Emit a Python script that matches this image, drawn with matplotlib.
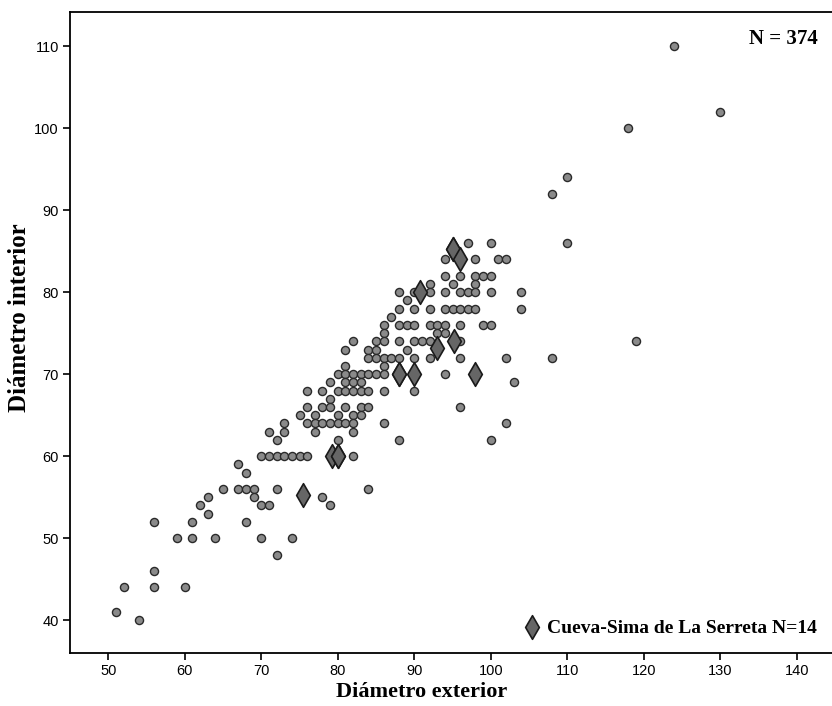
#!/usr/bin/env python3

import numpy as np
import matplotlib.pyplot as plt
from matplotlib.path import Path
from matplotlib.lines import Line2D

# diametro interior -> list of diametro exterior values on that row
rows = {
    110: [124],
    102: [130],
    100: [118],
    94: [110],
    92: [108],
    86: [97, 100, 110],
    84: [94, 98, 101, 102],
    82: [94, 96, 98, 99, 100],
    81: [92, 95, 98],
    80: [88, 90, 92, 94, 96, 97, 98, 100, 104],
    79: [89],
    78: [88, 90, 92, 94, 95, 96, 97, 98, 104],
    77: [87],
    76: [86, 88, 89, 90, 92, 93, 94, 96, 99, 100],
    75: [86, 93, 94],
    74: [82, 85, 86, 88, 90, 91, 92, 96, 119],
    73: [81, 84, 85, 89],
    72: [84, 85, 86, 87, 88, 90, 92, 96, 102, 108],
    71: [81, 86],
    70: [80, 81, 82, 83, 84, 85, 86, 94],
    69: [79, 81, 82, 83, 103],
    68: [76, 78, 80, 81, 82, 83, 84, 86, 90],
    67: [79],
    66: [76, 78, 79, 81, 83, 84, 96],
    65: [75, 77, 80, 82, 83],
    64: [73, 76, 77, 78, 79, 80, 81, 82, 86, 102],
    63: [71, 73, 77, 82],
    62: [72, 80, 88, 100],
    60: [70, 71, 72, 73, 74, 75, 76, 82],
    59: [67],
    58: [68],
    56: [65, 67, 68, 69, 72, 84],
    55: [63, 69, 78],
    54: [62, 70, 71, 79],
    53: [63],
    52: [56, 61, 68],
    50: [59, 61, 64, 70, 74],
    48: [72],
    46: [56],
    44: [52, 56, 60],
    41: [51],
    40: [54],
}

ext = []
inte = []
for y, xs in rows.items():
    for x in xs:
        ext.append(x)
        inte.append(y)
ext = np.array(ext)
inte = np.array(inte)

# Cueva-Sima de La Serreta
serreta_ext = [95, 95, 96, 90.8, 95.2, 93, 88, 88, 90, 98, 79.2, 80, 80, 75.5]
serreta_int = [85.3, 85.3, 84, 80, 74, 73.2, 70, 70, 70, 70, 60, 60, 60, 55.3]

xticks = list(range(50, 141, 10))
yticks = list(range(40, 111, 10))

serif = ['Liberation Serif', 'DejaVu Serif']
sans = ['Liberation Sans', 'DejaVu Sans']

diamond = Path([(0, 1), (0.58, 0), (0, -1), (-0.58, 0), (0, 1)],
               [Path.MOVETO, Path.LINETO, Path.LINETO, Path.LINETO, Path.CLOSEPOLY])

fig = plt.figure(figsize=(8.32, 7.06), dpi=100)
ax = fig.add_axes([70 / 832, 53 / 706, 765 / 832, 641 / 706])

ax.scatter(ext, inte, s=34, facecolor='#8a8a8a', edgecolor='#2a2a2a',
           linewidths=1.0, zorder=2)
ax.scatter(serreta_ext, serreta_int, marker=diamond, s=17 ** 2,
           facecolor='#666666', edgecolor='#1a1a1a', linewidths=1.2, zorder=3)

ax.set_xlim(45, 145)
ax.set_ylim(36, 114.15)
ax.set_xticks(xticks)
ax.set_yticks(yticks)
ax.tick_params(direction='out', length=5, width=1.2, labelsize=10.5, pad=3)
for lab in ax.get_xticklabels() + ax.get_yticklabels():
    lab.set_family(sans)

for side in ['left', 'bottom', 'top']:
    ax.spines[side].set_linewidth(1.3)
ax.spines['right'].set_visible(False)

ax.set_xlabel('Diámetro exterior', family=serif, fontweight='bold',
              fontsize=16)
ax.xaxis.set_label_coords(0.459, -0.045)
ax.set_ylabel('Diámetro interior', family=serif, fontweight='bold',
              fontsize=18)
ax.yaxis.set_label_coords(-0.051, 0.523)

ax.text(0.978, 0.958, 'N = 374', transform=ax.transAxes, ha='right', va='center',
        family=serif, fontweight='bold', fontsize=15)

handle = Line2D([], [], linestyle='none', marker=diamond, markersize=17,
                markerfacecolor='#666666', markeredgecolor='#1a1a1a',
                markeredgewidth=1.2)
ax.legend([handle], ['Cueva-Sima de La Serreta N=14'], loc='lower right',
          bbox_to_anchor=(0.997, 0.0), frameon=False, handlelength=1.0,
          handletextpad=0.3, borderpad=0.3,
          prop={'family': serif, 'weight': 'bold', 'size': 14})

fig.savefig('out.png', dpi=100)
